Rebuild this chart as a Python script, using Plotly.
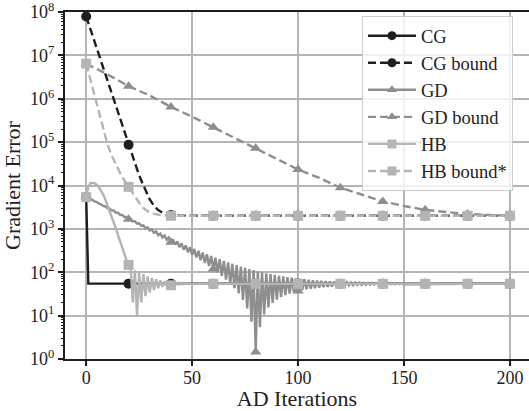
import plotly.graph_objects as go

# ---------------- data ----------------
cg_x = [0, 1, 20, 40, 60, 80, 100, 120, 140, 160, 180, 200]
cg_y = [5400, 54.5, 54.5, 54.5, 54.5, 54.5, 54.5, 54.5, 54.5, 54.5, 54.5, 54.5]

cgb_x = [0, 2, 4, 6, 8, 10, 12, 14, 16, 18, 20, 22, 24, 26, 28, 30, 32, 34, 36, 38, 40, 44, 50,
         60, 80, 100, 120, 140, 160, 180, 200]
cgb_y = [7.9e7, 4.0e7, 2.01e7, 1.02e7, 5.14e6, 2.59e6, 1.31e6, 6.61e5, 3.34e5, 1.69e5, 8.7e4,
         4.5e4, 2.37e4, 1.30e4, 7530, 4790, 3410, 2713, 2360, 2182, 2092, 2023, 2003,
         2000, 2000, 2000, 2000, 2000, 2000, 2000, 2000]

gd_x = list(range(0, 151)) + [160, 180, 200]
gd_y = [5400, 5199, 4803, 4639, 4275, 4141, 3804, 3696, 3385, 3300,
        3011, 2947, 2678, 2633, 2381, 2352, 2116, 2103, 1880, 1880,
        1670, 1681, 1482, 1504, 1315, 1347, 1166, 1206, 1034, 1081,
        915, 969, 810, 870, 716, 781, 632, 702, 558, 632,
        491, 569, 432, 513, 379, 463, 332, 418, 290, 379,
        252, 343, 219, 312, 189, 284, 163, 259, 139, 236,
        118, 217, 99, 199, 83, 183, 68, 169, 55, 157,
        43, 145.5, 32.4, 135.6, 23, 126.7, 14.6, 118.8, 7.2, 111.8,
        1.45, 105.5, 5.4, 99.9, 10.7, 94.9, 15.4, 90.4, 19.6, 86.5,
        23.4, 82.9, 26.7, 79.8, 29.7, 77.0, 32.3, 74.5, 34.7, 72.2,
        36.8, 70.3, 38.7, 68.5, 40.3, 66.9, 41.8, 65.5, 43.1, 64.3,
        44.3, 63.2, 45.4, 62.2, 46.3, 61.3, 47.1, 60.5, 47.9, 59.8,
        48.6, 59.2, 49.1, 58.6, 49.7, 58.1, 50.1, 57.6, 50.6, 57.3,
        50.9, 56.9, 51.3, 56.6, 51.6, 56.3, 51.8, 56.1, 52.1, 55.8,
        52.3, 55.6, 52.5, 55.5, 52.7, 55.3, 52.8, 55.2, 52.9, 55.0,
        53.0, 54.0, 54.0, 54.0]

gdb_x = [0, 10, 20, 30, 40, 50, 60, 70, 80, 90, 100, 110, 120, 130, 140, 150, 160, 170, 180, 190, 200]
gdb_y = [6.46e6, 3.67e6, 1.95e6, 1.19e6, 6.5e5, 3.87e5, 2.19e5, 1.265e5, 7.2e4, 4.23e4, 2.34e4,
         1.5e4, 8.9e3, 6.2e3, 4.3e3, 3.36e3, 2.75e3, 2.44e3, 2.2e3, 2.1e3, 2.0e3]

hb_x = [0, 1, 2, 3, 4, 5, 6, 7, 8, 9, 10, 11, 12, 13, 14, 15, 16, 17, 18, 19,
        20, 21, 22, 23, 24, 25, 26, 27, 28, 29, 30, 31, 32, 33, 34, 35, 36, 37, 38, 39,
        40, 41, 42, 43, 44, 45, 46, 47, 48, 49, 50, 60, 80, 100, 120, 140, 160, 180, 200]
hb_y = [5400, 9300, 11300, 11500, 11200, 10500, 9100, 7600, 6200, 4800,
        3600, 2700, 2000, 1450, 1020, 720, 510, 360, 263, 195,
        148, 125, 20, 110, 9.5, 100, 20, 90, 28, 80, 34, 74, 39, 69, 43, 65, 46, 62, 48, 60,
        50, 58, 51, 57, 52, 56, 53, 55, 53.5, 54.5, 54, 54, 54, 54, 54, 54, 54, 54, 54]

hbb_x = [0, 2, 4, 6, 8, 10, 12, 14, 16, 18, 20, 22, 24, 26, 28, 30, 32, 34, 36, 38, 40,
         60, 80, 100, 120, 140, 160, 180, 200]
hbb_y = [6.46e6, 2.69e6, 1.12e6, 4.68e5, 2.0e5, 9.1e4, 5.0e4, 3.0e4, 1.95e4, 1.32e4, 9.3e3,
         6.6e3, 4.6e3, 3.4e3, 2.75e3, 2.4e3, 2.21e3, 2.11e3, 2.05e3, 2.02e3, 2.0e3,
         2000, 2000, 2000, 2000, 2000, 2000, 2000, 2000]

y_tick_vals = [1, 10, 100, 1e3, 1e4, 1e5, 1e6, 1e7, 1e8]
y_tick_text = ["10<sup>%d</sup>" % i for i in range(9)]
x_tick_vals = [0, 50, 100, 150, 200]

series = [
    ("CG", cg_x, cg_y, "#1e1e1e", "solid", "circle"),
    ("CG bound", cgb_x, cgb_y, "#1e1e1e", "8px,4px", "circle"),
    ("GD", gd_x, gd_y, "#8e8e8e", "solid", "triangle-up"),
    ("GD bound", gdb_x, gdb_y, "#8e8e8e", "8px,4px", "triangle-up"),
    ("HB", hb_x, hb_y, "#b4b4b4", "solid", "square"),
    ("HB bound*", hbb_x, hbb_y, "#b4b4b4", "8px,4px", "square"),
]

FONT = "Liberation Serif"
fig = go.Figure()
for name, xs, ys, col, dash, sym in series:
    fig.add_trace(go.Scatter(x=xs, y=ys, mode="lines", showlegend=False,
                             line=dict(color=col, width=2.4, dash=dash)))
    mx = [x for x in xs if x % 20 == 0]
    my = [y for x, y in zip(xs, ys) if x % 20 == 0]
    fig.add_trace(go.Scatter(x=mx, y=my, mode="markers", showlegend=False,
                             marker=dict(color=col, size=10, symbol=sym, line=dict(width=0))))
for name, xs, ys, col, dash, sym in series:
    fig.add_trace(go.Scatter(x=[None], y=[None], mode="lines+markers", name=name,
                             line=dict(color=col, width=2.4, dash=dash),
                             marker=dict(color=col, size=9, symbol=sym)))

fig.update_layout(
    width=529, height=411,
    margin=dict(l=65, r=0, t=12, b=52),
    paper_bgcolor="white", plot_bgcolor="white",
    font=dict(family=FONT, size=18, color="#222"),
    legend=dict(x=0.64, y=0.988, xanchor="left", yanchor="top",
                bgcolor="rgba(255,255,255,0.8)", bordercolor="#cccccc", borderwidth=1,
                itemwidth=48,
                font=dict(family=FONT, size=18.5, color="#222"), tracegroupgap=0),
)
fig.update_xaxes(range=[-10, 209], tickvals=x_tick_vals,
                 showgrid=True, gridcolor="#b4b4b4", gridwidth=1.6,
                 showline=True, linecolor="#1e1e1e", linewidth=2, mirror=True,
                 ticks="outside", ticklen=5, tickwidth=1.5, tickcolor="#1e1e1e",
                 ticklabelstandoff=-4,
                 zeroline=False,
                 title=dict(text="AD Iterations", standoff=2))
fig.update_yaxes(type="log", range=[-0.001, 8.001], tickvals=y_tick_vals, ticktext=y_tick_text,
                 ticklabeloverflow="allow",
                 showgrid=True, gridcolor="#b4b4b4", gridwidth=1.6,
                 showline=True, linecolor="#1e1e1e", linewidth=2,
                 ticks="outside", ticklen=5, tickwidth=1.5, tickcolor="#1e1e1e",
                 minor=dict(ticks="outside", ticklen=2.5, tickwidth=1, tickcolor="#1e1e1e",
                            dtick="D1", showgrid=False),
                 zeroline=False,
                 title=dict(text="Gradient Error", standoff=6))

fig.write_html("out.html")
